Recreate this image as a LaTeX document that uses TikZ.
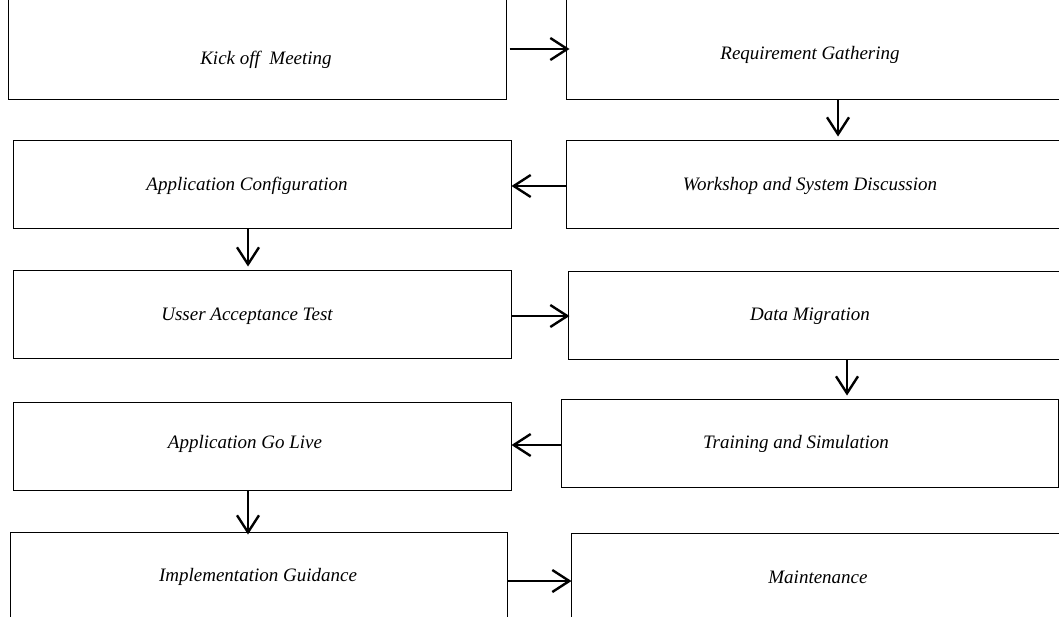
\documentclass[tikz,border=0pt]{standalone}
\usepackage{fontspec}
\setmainfont{Liberation Serif}
\usetikzlibrary{arrows.meta}
\begin{document}
\begin{tikzpicture}[x=1pt,y=-1pt,
  box/.style={draw, line width=1pt, inner sep=0pt, minimum width=#1},
  lbl/.style={inner sep=0pt, font=\fontsize{19}{22}\selectfont\itshape},
  arr/.style={line width=2.4pt, -{Straight Barb[length=17pt, width=22pt, line width=2.4pt]}}]
\useasboundingbox (0,0) rectangle (1059,616);
\clip (0,0) rectangle (1059,616);
% boxes
\node[box=498pt, minimum height=104pt] (k) at (257,47) {};
\node[box=500pt, minimum height=104pt] (r) at (816,47) {};
\node[box=500pt, minimum height=88pt] (w) at (816,184) {};
\node[box=498pt, minimum height=88pt] (a) at (262,184) {};
\node[box=498pt, minimum height=88pt] (u) at (262,314) {};
\node[box=498pt, minimum height=88pt] (d) at (817,315) {};
\node[box=497pt, minimum height=88pt] (t) at (809.5,443) {};
\node[box=498pt, minimum height=88pt] (g) at (262,446) {};
\node[box=497pt, minimum height=93pt] (i) at (258.5,578.5) {};
\node[box=500pt, minimum height=92pt] (m) at (821,579) {};
% labels
\node[lbl] (kt) at (266,60) {Kick off\ \ Meeting};
\node[lbl] (rt) at (810,55) {Requirement Gathering};
\node[lbl] (wt) at (810,186) {Workshop and System Discussion};
\node[lbl] (at) at (247,186) {Application Configuration};
\node[lbl] (ut) at (247,316) {Usser Acceptance Test};
\node[lbl] (dt) at (810,316) {Data Migration};
\node[lbl] (tt) at (796,444) {Training and Simulation};
\node[lbl] (gt) at (245,444) {Application Go Live};
\node[lbl] (it) at (258,577) {Implementation Guidance};
\node[lbl] (mt) at (818,577) {Maintenance};
% connectors
\draw[arr, shorten <=3pt, shorten >=-4pt] ([yshift=-2pt]k.east) -- ([yshift=-2pt]r.west);
\draw[arr, shorten >=3pt] ([xshift=22pt]r.south) -- ([xshift=22pt]w.north);
\draw[arr] ([yshift=-2pt]w.west) -- ([yshift=-2pt]a.east);
\draw[arr, shorten >=3pt] ([xshift=-14pt]a.south) -- ([xshift=-14pt]u.north);
\draw[arr, shorten >=-2pt] ([yshift=-2pt]u.east) -- ([yshift=-1pt]d.west);
\draw[arr, shorten >=3pt] ([xshift=30pt]d.south) -- ([xshift=37.5pt]t.north);
\draw[arr] ([yshift=-2pt]t.west) -- ([yshift=1pt]g.east);
\draw[arr, shorten >=-3pt] ([xshift=-14pt]g.south) -- ([xshift=-10.5pt]i.north);
\draw[arr, shorten >=-1pt] ([yshift=-2.5pt]i.east) -- ([yshift=-2pt]m.west);
\end{tikzpicture}
\end{document}
